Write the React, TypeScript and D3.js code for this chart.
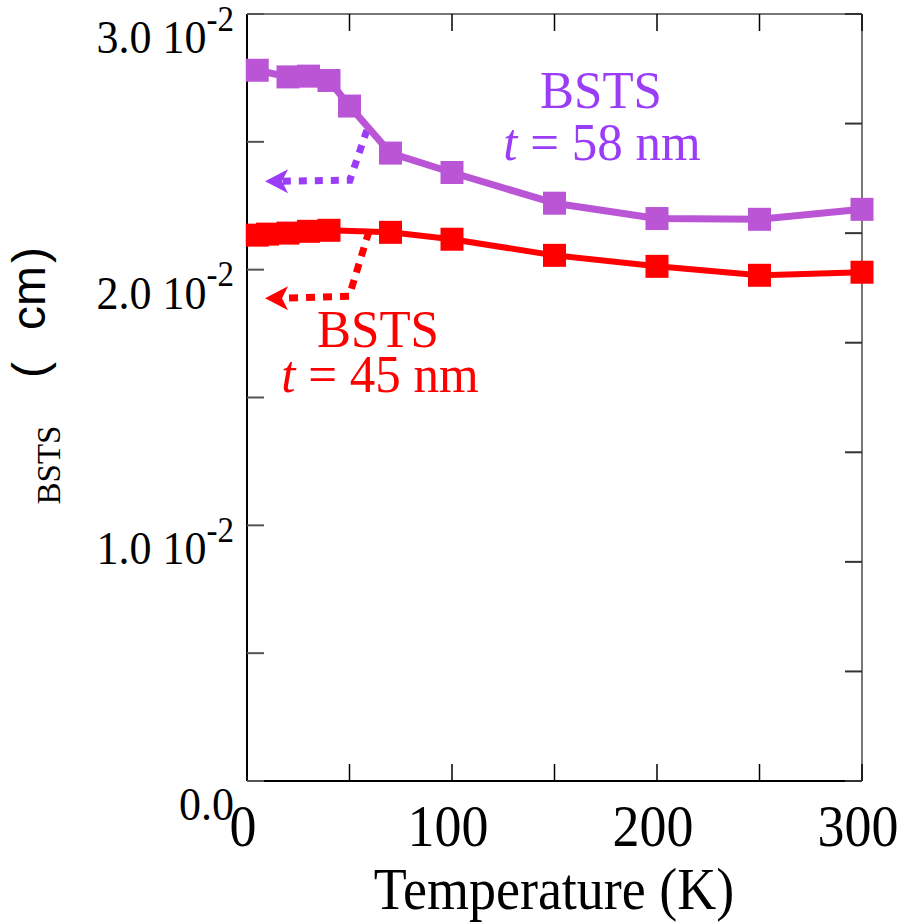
import React from "react";
import * as d3 from "d3";

// Resistivity vs temperature for two BSTS film thicknesses (values in 10^-2 Ω cm)
const tempsThick = [5, 20, 30, 40, 50, 70, 100, 150, 200, 250, 300];
const rhoThick = [2.78, 2.754, 2.757, 2.74, 2.64, 2.456, 2.38, 2.26, 2.2, 2.197, 2.236];

const tempsThin = [5, 10, 20, 30, 40, 70, 100, 150, 200, 250, 300];
const rhoThin = [2.135, 2.139, 2.143, 2.15, 2.154, 2.146, 2.119, 2.056, 2.013, 1.978, 1.99];

// Dotted guide arrows pointing to the left axis, in data units [T, rho]
const arrowThick: [number, number][] = [[58.5, 2.546], [50.2, 2.35], [17.5, 2.346]];
const arrowThickTip: [number, number] = [8.8, 2.346];
const arrowThin: [number, number][] = [[59.5, 2.15], [49.8, 1.896], [17.5, 1.888]];
const arrowThinTip: [number, number] = [8.8, 1.888];

const xTickLabels = [0, 100, 200, 300];
const xMinorTicks = [0, 50, 100, 150, 200, 250, 300];
const yTickLabels = [0, 1, 2, 3];
const yMinorTicks = [0, 0.5, 1, 1.5, 2, 2.5, 3];
const rightTicks = [0, 0.5, 1, 1.5, 2, 2.5, 3, 3.5];

const W = 900;
const H = 924;
const left = 247;
const right = 862;
const top = 14;
const bottom = 781;

const SERIF = "'Liberation Serif', 'Times New Roman', serif";
const SANS = "'Liberation Sans', Arial, sans-serif";

const PURPLE = "#BA55D6";
const VIOLET = "#9B3CF7";
const RED = "#FF0000";

export default function App() {
  const x = d3.scaleLinear().domain([0, 300]).range([left, right]);
  const y = d3.scaleLinear().domain([0, 3]).range([bottom, top]);
  const yRight = d3.scaleLinear().domain([0, 3.5]).range([bottom, top]);

  const line = d3
    .line<[number, number]>()
    .x((d) => x(d[0]))
    .y((d) => y(d[1]));

  const thick: [number, number][] = tempsThick.map((t, i) => [t, rhoThick[i]]);
  const thin: [number, number][] = tempsThin.map((t, i) => [t, rhoThin[i]]);

  const sq = 23;
  const tickLen = 17;

  const arrowHead = (tip: [number, number], color: string) => {
    const tx = x(tip[0]);
    const ty = y(tip[1]);
    const pts = [
      [tx, ty],
      [tx + 23, ty - 12],
      [tx + 17, ty],
      [tx + 23, ty + 12],
    ];
    return <polygon points={pts.map((p) => p.join(",")).join(" ")} fill={color} />;
  };

  return (
    <svg
      width={W}
      height={H}
      style={{ position: "absolute", left: 0, top: 0, background: "#fff" }}
    >
      {/* frame */}
      <line x1={left} y1={top} x2={right} y2={top} stroke="#777" strokeWidth={2} />
      <line x1={right} y1={top} x2={right} y2={bottom} stroke="#777" strokeWidth={2} />
      <line x1={left} y1={top} x2={left} y2={bottom} stroke="#000" strokeWidth={2} />
      <line x1={left} y1={bottom} x2={right} y2={bottom} stroke="#000" strokeWidth={2} />

      {/* ticks */}
      {xMinorTicks.map((t) => (
        <g key={"xt" + t}>
          <line x1={x(t)} x2={x(t)} y1={bottom} y2={bottom - tickLen} stroke="#000" strokeWidth={1.5} />
          <line x1={x(t)} x2={x(t)} y1={top} y2={top + tickLen} stroke="#000" strokeWidth={1.5} />
        </g>
      ))}
      {yMinorTicks.map((v) => (
        <line key={"yt" + v} x1={left} x2={left + tickLen} y1={y(v)} y2={y(v)} stroke="#555" strokeWidth={2} />
      ))}
      {rightTicks.map((v) => (
        <line key={"rt" + v} x1={right} x2={right - tickLen} y1={yRight(v)} y2={yRight(v)} stroke="#333" strokeWidth={2} />
      ))}

      {/* x tick labels */}
      {xTickLabels.map((t) => (
        <g key={"xl" + t} transform={`translate(${x(t) - 4},846) scale(1,1.1)`}>
          <text textAnchor="middle" fontFamily={SERIF} fontSize={54} fill="#000">
            {t}
          </text>
        </g>
      ))}

      {/* y tick labels */}
      {yTickLabels.map((v) => (
        <g key={"yl" + v} transform={`translate(234,${y(v) + 39}) scale(1,1.07)`}>
          <text textAnchor="end" fontFamily={SERIF} fontSize={44} fill="#000">
            {v === 0 ? (
              v.toFixed(1)
            ) : (
              <>
                {v.toFixed(1) + " 10"}
                <tspan fontSize={33} dy={-21}>
                  -2
                </tspan>
              </>
            )}
          </text>
        </g>
      ))}

      {/* axis titles */}
      <g transform="translate(554,909) scale(1,1.08)">
        <text textAnchor="middle" fontFamily={SERIF} fontSize={54} fill="#000">
          Temperature (K)
        </text>
      </g>
      <text
        transform="translate(60,465) rotate(-90)"
        textAnchor="middle"
        fontFamily={SERIF}
        fontSize={33}
        fill="#000"
      >
        BSTS
      </text>
      <text
        transform="translate(46,370) rotate(-90)"
        textAnchor="middle"
        fontFamily={SANS}
        fontSize={48}
        fill="#000"
      >
        (
      </text>
      <text
        transform="translate(45,298) rotate(-90)"
        textAnchor="middle"
        fontFamily={SANS}
        fontSize={48}
        fill="#000"
      >
        cm
      </text>
      <text
        transform="translate(46,255) rotate(-90)"
        textAnchor="middle"
        fontFamily={SANS}
        fontSize={48}
        fill="#000"
      >
        )
      </text>

      {/* dotted guide arrows */}
      <path
        d={line(arrowThick) || ""}
        fill="none"
        stroke={VIOLET}
        strokeWidth={7}
        strokeDasharray="8 8"
      />
      {arrowHead(arrowThickTip, VIOLET)}
      <path
        d={line(arrowThin) || ""}
        fill="none"
        stroke={RED}
        strokeWidth={7}
        strokeDasharray="9 8"
      />
      {arrowHead(arrowThinTip, RED)}

      {/* series */}
      <path d={line(thick) || ""} fill="none" stroke={PURPLE} strokeWidth={7} strokeLinejoin="round" />
      {thick.map((d, i) => (
        <rect key={"p" + i} x={x(d[0]) - sq / 2} y={y(d[1]) - sq / 2} width={sq} height={sq} fill={PURPLE} />
      ))}
      <path d={line(thin) || ""} fill="none" stroke={RED} strokeWidth={6} strokeLinejoin="round" />
      {thin.map((d, i) => (
        <rect key={"r" + i} x={x(d[0]) - sq / 2} y={y(d[1]) - sq / 2} width={sq} height={sq} fill={RED} />
      ))}

      {/* series labels (two lines each) */}
      <g transform="translate(601,108) scale(1,1.04)">
        <text textAnchor="middle" fontFamily={SERIF} fontSize={51} fill={VIOLET}>
          <tspan x={0} y={0}>BSTS</tspan>
          <tspan x={1} y={50}>
            <tspan fontStyle="italic">t</tspan> = 58 nm
          </tspan>
        </text>
      </g>
      <g transform="translate(378,347) scale(1,1.04)">
        <text textAnchor="middle" fontFamily={SERIF} fontSize={51} fill={RED}>
          <tspan x={0} y={0}>BSTS</tspan>
          <tspan x={2} y={43}>
            <tspan fontStyle="italic">t</tspan> = 45 nm
          </tspan>
        </text>
      </g>
    </svg>
  );
}
